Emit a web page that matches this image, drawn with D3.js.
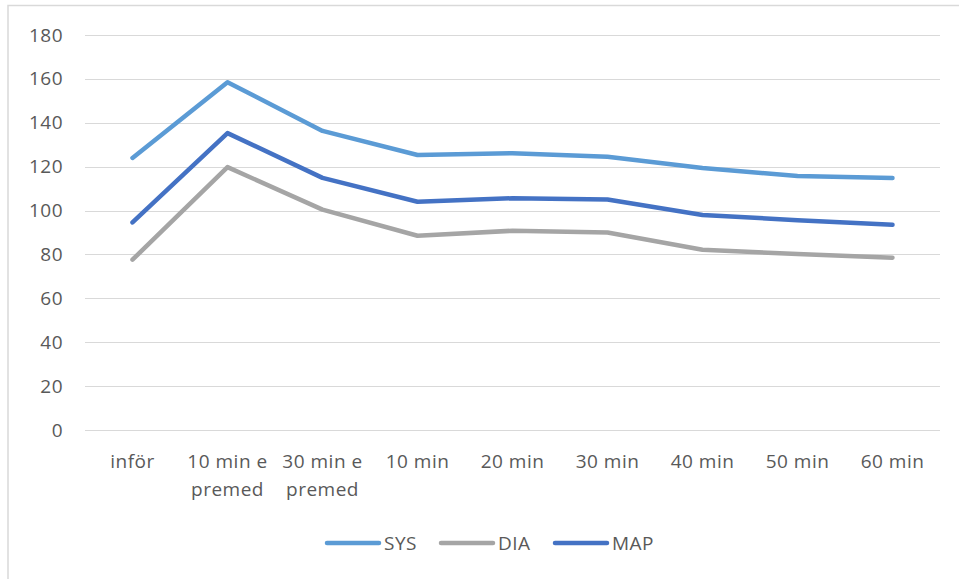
<!DOCTYPE html>
<html>
<head>
<meta charset="utf-8">
<script src="https://cdn.jsdelivr.net/npm/d3@7"></script>
<style>
  html, body { margin: 0; padding: 0; background: #fff; }
  svg { display: block; }
  text { font-family: "Open Sans", "Noto Sans", sans-serif; fill: #595959; letter-spacing: 0.5px; }
</style>
</head>
<body>
<svg id="chart" width="959" height="579"></svg>
<script>
// Blood pressure (mmHg) over time
const categories = [["inför"], ["10 min e", "premed"], ["30 min e", "premed"], ["10 min"], ["20 min"], ["30 min"], ["40 min"], ["50 min"], ["60 min"]];
const sys = [124, 158.5, 136.3, 125.3, 126.1, 124.5, 119.4, 115.7, 114.8];
const dia = [77.6, 119.8, 100.4, 88.5, 90.8, 90.0, 82.1, 80.2, 78.5];
const map = [94.6, 135.3, 114.9, 104.0, 105.6, 105.0, 98.0, 95.6, 93.5];
const yTicks = [0, 20, 40, 60, 80, 100, 120, 140, 160, 180];

const seriesList = [
  { name: "SYS", values: sys, color: "#5b9bd5" },
  { name: "DIA", values: dia, color: "#a5a5a5" },
  { name: "MAP", values: map, color: "#4472c4" }
];

const svg = d3.select("#chart");
const W = 959, H = 579;
const plot = { left: 85, right: 940, top: 35, bottom: 430 };
const fontSize = "19px";

// outer chart border (runs off the right and bottom edges)
svg.append("rect")
  .attr("x", 8).attr("y", 5.5)
  .attr("width", W + 10).attr("height", H + 10)
  .attr("fill", "none").attr("stroke", "#d9d9d9").attr("stroke-width", 1.5);

const x = d3.scaleBand()
  .domain(d3.range(categories.length))
  .range([plot.left, plot.right]);

const y = d3.scaleLinear().domain([0, 180]).range([plot.bottom, plot.top]);

// horizontal gridlines
svg.append("g").selectAll("line").data(yTicks).join("line")
  .attr("x1", plot.left).attr("x2", plot.right)
  .attr("y1", d => Math.round(y(d)) + 0.5).attr("y2", d => Math.round(y(d)) + 0.5)
  .attr("stroke", "#d9d9d9").attr("stroke-width", 1);

// y axis labels
const yAxis = d3.axisLeft(y).tickValues(yTicks).tickSize(0).tickPadding(0);
const gy = svg.append("g").attr("transform", `translate(${plot.left - 22},0)`).call(yAxis);
gy.select(".domain").remove();
gy.selectAll("text")
  .style("font-family", '"Open Sans", sans-serif')
  .style("font-size", fontSize).attr("fill", "#595959");

// x axis labels (wrapped)
const xl = svg.append("g");
categories.forEach((lines, i) => {
  const cx = x(i) + x.bandwidth() / 2;
  const t = xl.append("text")
    .attr("text-anchor", "middle")
    .attr("font-size", fontSize)
    .attr("x", cx).attr("y", 468);
  lines.forEach((ln, j) => {
    t.append("tspan").attr("x", cx).attr("dy", j === 0 ? 0 : 28).text(ln);
  });
});

// series lines
const line = d3.line()
  .x((d, i) => x(i) + x.bandwidth() / 2)
  .y(d => y(d));

svg.append("g").selectAll("path").data(seriesList).join("path")
  .attr("d", s => line(s.values))
  .attr("fill", "none")
  .attr("stroke", s => s.color)
  .attr("stroke-width", 4.5)
  .attr("stroke-linecap", "round")
  .attr("stroke-linejoin", "round");

// legend
const legendX = [325, 439, 553];
const lg = svg.append("g");
seriesList.forEach((s, i) => {
  const lx = legendX[i];
  lg.append("line")
    .attr("x1", lx + 2).attr("x2", lx + 54)
    .attr("y1", 543).attr("y2", 543)
    .attr("stroke", s.color).attr("stroke-width", 4.5)
    .attr("stroke-linecap", "round");
  lg.append("text")
    .attr("x", lx + 59).attr("y", 550)
    .attr("font-size", fontSize)
    .text(s.name);
});
</script>
</body>
</html>
